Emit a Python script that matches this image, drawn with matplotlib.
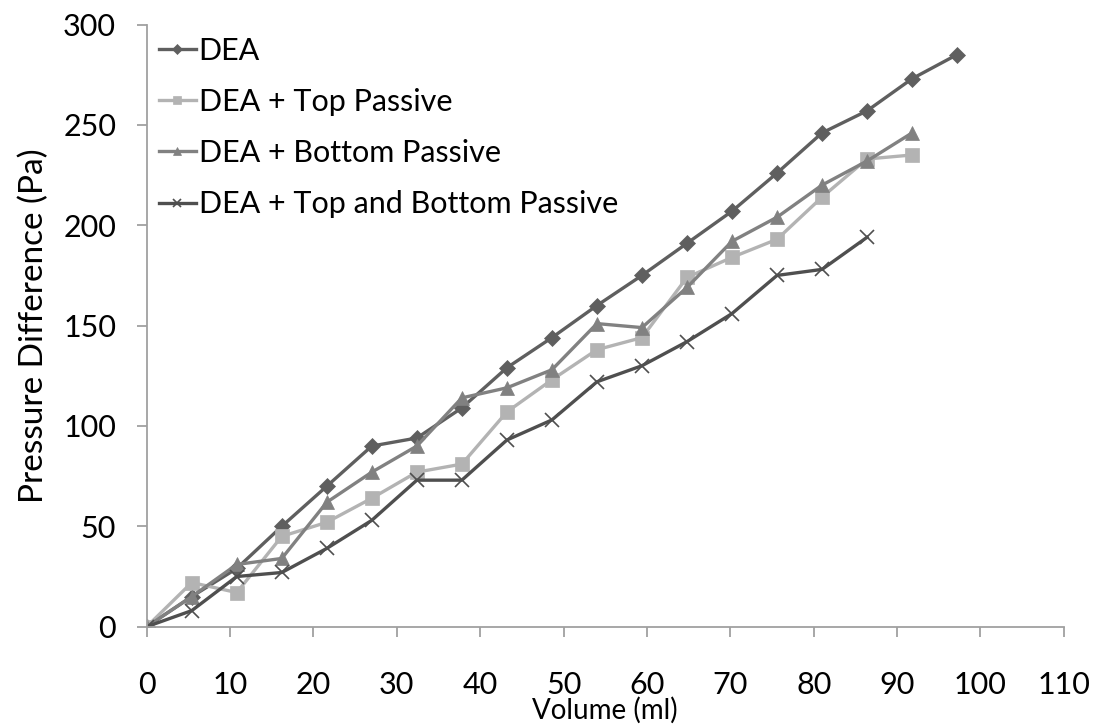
import matplotlib
matplotlib.use("Agg")
import matplotlib.pyplot as plt

plt.rcParams['font.family'] = ['Lato', 'DejaVu Sans']

# Volume steps (ml) and measured pressure differences (Pa)
volume = [0, 5.4, 10.8, 16.2, 21.6, 27.0, 32.4, 37.8, 43.2, 48.6,
          54.0, 59.4, 64.8, 70.2, 75.6, 81.0, 86.4, 91.8, 97.2]

dea = [0, 15, 29, 50, 70, 90, 94, 109, 129, 144, 160, 175, 191, 207,
       226, 246, 257, 273, 285]
dea_top = [0, 22, 17, 45, 52, 64, 77, 81, 107, 123, 138, 144, 174, 184,
           193, 214, 233, 235]
dea_bottom = [0, 15, 31, 34, 62, 77, 90, 114, 119, 128, 151, 149, 169, 192,
              204, 220, 232, 246]
dea_top_bottom = [0, 8, 25, 27, 39, 53, 73, 73, 93, 103, 122, 130, 142, 156,
                  175, 178, 194]

labels = ["DEA", "DEA + Top Passive", "DEA + Bottom Passive",
          "DEA + Top and Bottom Passive"]
x_ticks = [0, 10, 20, 30, 40, 50, 60, 70, 80, 90, 100, 110]
y_ticks = [0, 50, 100, 150, 200, 250, 300]

fig = plt.figure(figsize=(10.99, 7.25), dpi=100)
ax = fig.add_axes([0.1335, 0.1356, 0.8345, 0.8306])

series = [
    (dea, "#5f5f5f", "D", 8, 2.4),
    (dea_top, "#b3b3b3", "s", 9.5, 2.4),
    (dea_bottom, "#818181", "^", 10.5, 2.4),
    (dea_top_bottom, "#4f4f4f", "x", 10, 2.4),
]
for (vals, color, marker, ms, lw), lab in zip(series, labels):
    ax.plot(volume[:len(vals)], vals, color=color, lw=lw, marker=marker,
            markersize=ms, markeredgewidth=1.2 if marker == "x" else 0.5,
            markeredgecolor=color, label=lab)

ax.set_xlim(0, 110)
ax.set_ylim(0, 300)
ax.set_xticks(x_ticks)
ax.set_yticks(y_ticks)

for side in ("top", "right"):
    ax.spines[side].set_visible(False)
for side in ("left", "bottom"):
    ax.spines[side].set_color("#a0a0a0")
    ax.spines[side].set_linewidth(1.3)

ax.tick_params(axis="both", direction="out", length=7, width=1.3,
               color="#a0a0a0", labelsize=22, labelcolor="black")
ax.tick_params(axis="x", pad=25)
ax.tick_params(axis="y", pad=15)

ax.set_xlabel("Volume (ml)", fontsize=20)
ax.xaxis.label.set_verticalalignment("bottom")
ax.xaxis.set_label_coords(0.5, -0.161)
ax.set_ylabel("Pressure Difference (Pa)", fontsize=24)
ax.yaxis.set_label_coords(-0.106, 0.5)

leg = ax.legend(loc="upper left", bbox_to_anchor=(0.0, 1.0), frameon=False,
                fontsize=22, handlelength=1.2, handletextpad=0.1,
                labelspacing=0.76, borderaxespad=0.0, markerscale=0.6)

fig.savefig("out.png", dpi=100, facecolor="white")
